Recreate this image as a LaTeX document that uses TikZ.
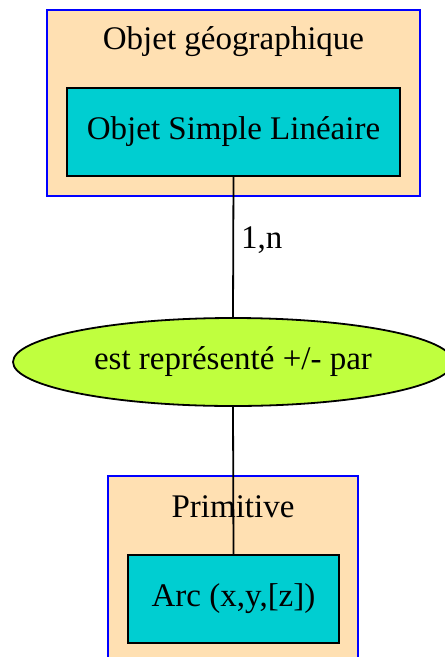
\documentclass[tikz,border=0pt]{standalone}
\usepackage{fontspec}
\setmainfont{Liberation Serif}
\usetikzlibrary{shapes.geometric}
\definecolor{beige}{HTML}{FFE0B2}
\definecolor{turq}{HTML}{00CED1}
\definecolor{lime}{HTML}{C0FF3E}
\begin{document}
\begin{tikzpicture}[x=1pt,y=-1pt,
  cluster/.style={draw=blue, line width=2.2pt, fill=beige, inner sep=0pt},
  entity/.style={draw=black, line width=2pt, fill=turq, inner sep=0pt, font=\fontsize{33}{38}\selectfont},
  relation/.style={ellipse, draw=black, line width=1.8pt, fill=lime, inner sep=0pt, font=\fontsize{33}{38}\selectfont},
  title/.style={font=\fontsize{33}{38}\selectfont, inner sep=0pt},
  conn/.style={draw=black, line width=1.8pt}]
\useasboundingbox (0,0) rectangle (445,657);
\clip (0,0) rectangle (445,657);
\node[cluster, minimum width=373pt, minimum height=186pt] (c1) at (233.5,103) {};
\node[title] (t1) at (233.5,42) {Objet géographique};
\node[entity, minimum width=333pt, minimum height=88pt] (e1) at (233.5,132) {Objet Simple Linéaire};
\node[cluster, minimum width=250pt, minimum height=200pt] (c2) at (233,576) {};
\node[title] (t2) at (233,507) {Primitive};
\node[entity, minimum width=211pt, minimum height=88pt] (e2) at (233.5,599) {Arc (x,y,[z])};
\node[relation, minimum width=440pt, minimum height=88pt] (r) at (233,362) {est représenté +/- par};
\draw[conn] (e1.south) -- (r.north) node[pos=0.45, right=7pt, title] {1,n};
\draw[conn] (r.south) -- (e2.north);
\end{tikzpicture}
\end{document}
